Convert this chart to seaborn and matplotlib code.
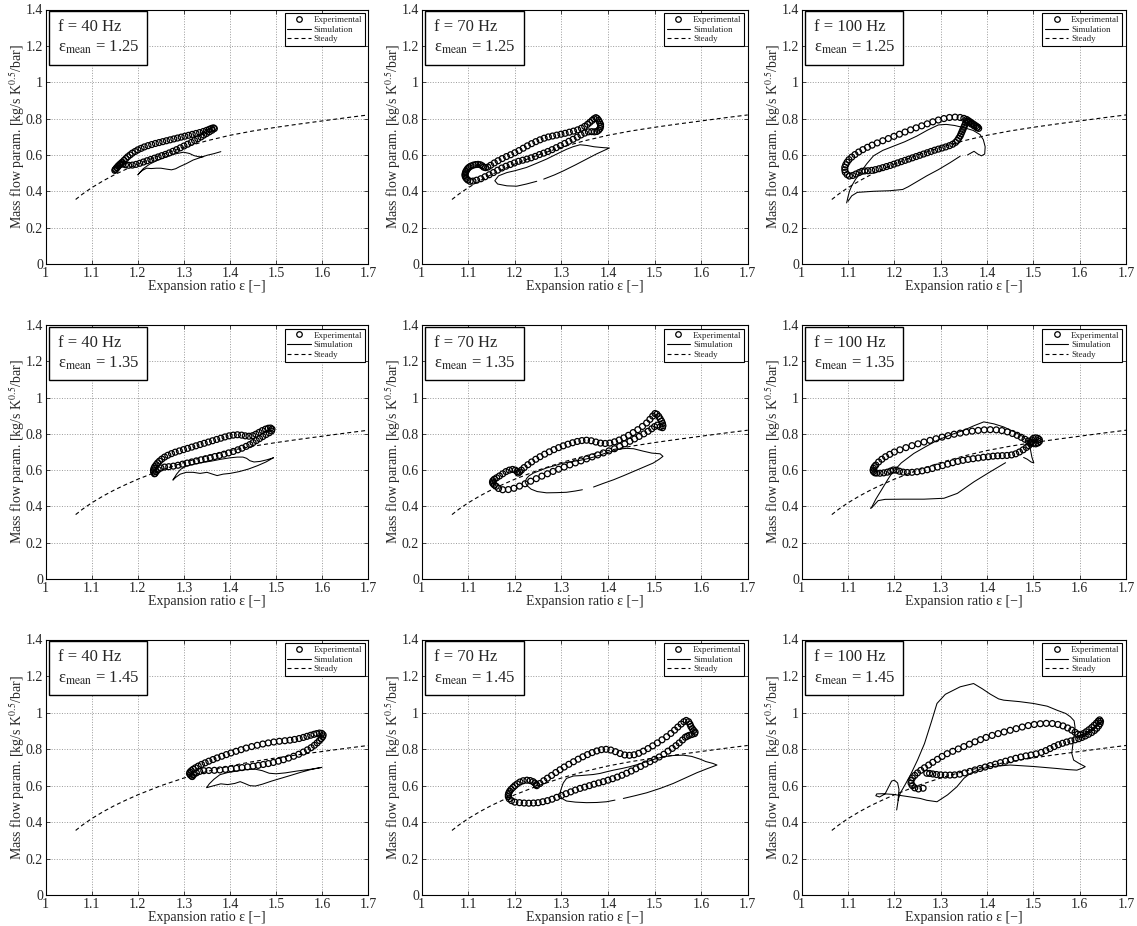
import numpy as np
import pandas as pd
import matplotlib
matplotlib.use("Agg")
import matplotlib.pyplot as plt
import seaborn as sns
from matplotlib.lines import Line2D

sns.set_style("white")
plt.rcParams["font.family"] = ["Liberation Serif", "DejaVu Serif"]
plt.rcParams["mathtext.fontset"] = "stix"

# ---------------- data ----------------
freqs = ["40", "70", "100"]
eps_means = ["1.25", "1.35", "1.45"]
x_ticks = [1.0, 1.1, 1.2, 1.3, 1.4, 1.5, 1.6, 1.7]
x_ticklabels = ["1", "1.1", "1.2", "1.3", "1.4", "1.5", "1.6", "1.7"]
y_ticks = [0.0, 0.2, 0.4, 0.6, 0.8, 1.0, 1.2, 1.4]
y_ticklabels = ["0", "0.2", "0.4", "0.6", "0.8", "1", "1.2", "1.4"]
legend_labels = ["Experimental", "Simulation", "Steady"]

steady_x = [1.065, 1.08, 1.10, 1.125, 1.15, 1.175, 1.2, 1.25, 1.3, 1.35, 1.4, 1.45, 1.5, 1.55, 1.6, 1.65, 1.7]
steady_y = [0.355, 0.385, 0.42, 0.458, 0.492, 0.522, 0.55, 0.6, 0.642, 0.678, 0.708, 0.732, 0.752, 0.77, 0.787, 0.804, 0.82]

NA = (np.nan, np.nan)

exp_f40_e125 = [
    (1.150, 0.515), (1.152, 0.522), (1.155, 0.530), (1.157, 0.538), (1.160, 0.546), (1.163, 0.553), (1.166, 0.560),
    (1.170, 0.570), (1.174, 0.580), (1.178, 0.590), (1.183, 0.600), (1.188, 0.610), (1.194, 0.619), (1.200, 0.628),
    (1.207, 0.636), (1.214, 0.644), (1.222, 0.651), (1.230, 0.657), (1.238, 0.663), (1.246, 0.668), (1.254, 0.673),
    (1.262, 0.678), (1.270, 0.683), (1.278, 0.688), (1.286, 0.693), (1.294, 0.698), (1.302, 0.703), (1.310, 0.708),
    (1.318, 0.713), (1.326, 0.718), (1.334, 0.723), (1.342, 0.729), (1.349, 0.735), (1.355, 0.741), (1.360, 0.746),
    (1.364, 0.749), (1.366, 0.745),
    (1.361, 0.736), (1.355, 0.727), (1.349, 0.718), (1.343, 0.709), (1.337, 0.699), (1.330, 0.689), (1.323, 0.679),
    (1.316, 0.669), (1.308, 0.659), (1.300, 0.649), (1.292, 0.639), (1.284, 0.629), (1.276, 0.620), (1.268, 0.611),
    (1.260, 0.603), (1.252, 0.596), (1.244, 0.589), (1.236, 0.582), (1.228, 0.575), (1.220, 0.568), (1.212, 0.561),
    (1.204, 0.554), (1.196, 0.548), (1.188, 0.544), (1.180, 0.543), (1.173, 0.546), (1.167, 0.550), (1.162, 0.548),
    (1.158, 0.540), (1.154, 0.530), (1.151, 0.520)]
sim_f40_e125 = [
    (1.380, 0.618), (1.365, 0.607), (1.350, 0.598), (1.335, 0.585), (1.320, 0.572), (1.305, 0.552), (1.291, 0.536),
    (1.282, 0.524), (1.273, 0.518), (1.262, 0.522), (1.250, 0.527), (1.240, 0.527), (1.229, 0.525), (1.219, 0.527),
    (1.210, 0.515), (1.203, 0.500), (1.200, 0.490), (1.204, 0.503), (1.212, 0.525), (1.226, 0.550), (1.244, 0.572),
    (1.262, 0.590), (1.280, 0.605), (1.299, 0.615), (1.312, 0.608), (1.322, 0.596), (1.332, 0.590), (1.342, 0.590)]

exp_f70_e125 = [
    (1.104, 0.455), (1.099, 0.462), (1.096, 0.470), (1.094, 0.478), (1.093, 0.486), (1.093, 0.494), (1.094, 0.502),
    (1.095, 0.510), (1.097, 0.518), (1.099, 0.526), (1.102, 0.533), (1.106, 0.539), (1.111, 0.544), (1.116, 0.547),
    (1.121, 0.548), (1.126, 0.546), (1.130, 0.540), (1.133, 0.533), (1.137, 0.530), (1.142, 0.533),
    (1.148, 0.543), (1.156, 0.556), (1.164, 0.568), (1.173, 0.580), (1.182, 0.591), (1.191, 0.601), (1.200, 0.612),
    (1.209, 0.624), (1.218, 0.637), (1.227, 0.650), (1.236, 0.662), (1.245, 0.673), (1.254, 0.683), (1.263, 0.692),
    (1.272, 0.699), (1.281, 0.704), (1.290, 0.709), (1.299, 0.714), (1.308, 0.719), (1.317, 0.725), (1.326, 0.731),
    (1.335, 0.738), (1.343, 0.747), (1.350, 0.757), (1.356, 0.768), (1.361, 0.779), (1.366, 0.790), (1.370, 0.799),
    (1.374, 0.805), (1.377, 0.800), (1.380, 0.790), (1.382, 0.779), (1.384, 0.768), (1.384, 0.757), (1.383, 0.746),
    (1.380, 0.736), (1.376, 0.729), (1.371, 0.727), (1.365, 0.728),
    (1.358, 0.727), (1.350, 0.720), (1.342, 0.710), (1.334, 0.698), (1.325, 0.686), (1.316, 0.675), (1.307, 0.663),
    (1.298, 0.651), (1.289, 0.640), (1.280, 0.629), (1.271, 0.619), (1.262, 0.610), (1.253, 0.602), (1.244, 0.592),
    (1.235, 0.584), (1.226, 0.577), (1.217, 0.571), (1.208, 0.565), (1.199, 0.556), (1.190, 0.547), (1.181, 0.538),
    (1.172, 0.528), (1.163, 0.516), (1.154, 0.503), (1.145, 0.491), (1.136, 0.480), (1.127, 0.469), (1.118, 0.461),
    (1.110, 0.456)]
sim_f70_e125 = [
    (1.262, 0.467), (1.285, 0.490), (1.304, 0.512), (1.330, 0.545), (1.354, 0.577), (1.375, 0.605), (1.397, 0.631),
    (1.403, 0.638), (1.390, 0.640), (1.370, 0.645), (1.355, 0.652), (1.340, 0.656), (1.325, 0.645), (1.311, 0.631),
    (1.290, 0.605), (1.268, 0.577), (1.245, 0.552), (1.225, 0.531), (1.200, 0.513), (1.183, 0.503), (1.165, 0.485),
    (1.157, 0.458), (1.163, 0.440), (1.183, 0.430), (1.204, 0.428), (1.225, 0.440), (1.247, 0.455)]

exp_f100_e125 = [
    (1.094, 0.505), (1.093, 0.518), (1.093, 0.532), (1.095, 0.546), (1.098, 0.560), (1.102, 0.574), (1.108, 0.588),
    (1.115, 0.602), (1.123, 0.616), (1.132, 0.629), (1.142, 0.642), (1.152, 0.654), (1.163, 0.666), (1.175, 0.678),
    (1.187, 0.690), (1.199, 0.702), (1.211, 0.714), (1.223, 0.726), (1.235, 0.738), (1.247, 0.749), (1.259, 0.760),
    (1.271, 0.771), (1.283, 0.782), (1.295, 0.792), (1.307, 0.800), (1.319, 0.806), (1.331, 0.808), (1.342, 0.806),
    (1.350, 0.801),
    (1.356, 0.795), (1.360, 0.788), (1.364, 0.781), (1.368, 0.774), (1.372, 0.767), (1.376, 0.760), (1.380, 0.753),
    (1.382, 0.746), (1.378, 0.750), (1.372, 0.760), (1.366, 0.770), (1.360, 0.780), (1.356, 0.786), (1.354, 0.776),
    (1.352, 0.764), (1.350, 0.752), (1.348, 0.740), (1.346, 0.728), (1.344, 0.716), (1.342, 0.704), (1.339, 0.692),
    (1.336, 0.680), (1.332, 0.669),
    (1.326, 0.659), (1.319, 0.651), (1.311, 0.644), (1.303, 0.638), (1.295, 0.632), (1.287, 0.626), (1.279, 0.619),
    (1.271, 0.612), (1.263, 0.605), (1.255, 0.598), (1.247, 0.591), (1.239, 0.584), (1.231, 0.577), (1.223, 0.570),
    (1.215, 0.563), (1.207, 0.556), (1.199, 0.549), (1.191, 0.542), (1.183, 0.536), (1.175, 0.530), (1.167, 0.524),
    (1.159, 0.519), (1.151, 0.515), (1.143, 0.513), (1.136, 0.512), (1.130, 0.510), (1.124, 0.503), (1.117, 0.495),
    (1.110, 0.487), (1.103, 0.484), (1.098, 0.492)]
sim_f100_e125 = [
    (1.097, 0.336), (1.100, 0.370), (1.103, 0.400), (1.108, 0.430), (1.116, 0.465), (1.126, 0.500), (1.140, 0.550),
    (1.155, 0.595), (1.175, 0.625), (1.198, 0.648), (1.222, 0.672), (1.248, 0.703), (1.272, 0.737), (1.295, 0.765),
    (1.312, 0.768), (1.330, 0.762), (1.350, 0.750), (1.370, 0.735), (1.385, 0.712), (1.392, 0.684), (1.396, 0.645),
    (1.395, 0.605), (1.388, 0.595), (1.380, 0.605), (1.372, 0.620), (1.365, 0.610), (1.358, 0.600),
    NA,
    (1.342, 0.593), (1.320, 0.557), (1.295, 0.519), (1.270, 0.485), (1.248, 0.452), (1.230, 0.425), (1.218, 0.410),
    (1.190, 0.403), (1.155, 0.400), (1.120, 0.394), (1.108, 0.375), (1.100, 0.345)]

exp_f40_e135 = [
    (1.236, 0.580), (1.234, 0.590), (1.234, 0.600), (1.235, 0.610), (1.237, 0.620), (1.240, 0.630), (1.243, 0.640),
    (1.247, 0.650),
    (1.252, 0.661), (1.258, 0.672), (1.265, 0.682), (1.273, 0.691), (1.281, 0.699), (1.290, 0.706), (1.299, 0.713),
    (1.308, 0.720), (1.317, 0.727), (1.326, 0.734), (1.335, 0.741), (1.344, 0.748), (1.353, 0.755), (1.362, 0.762),
    (1.371, 0.769), (1.380, 0.776), (1.389, 0.783), (1.398, 0.789), (1.407, 0.793), (1.416, 0.795), (1.425, 0.793),
    (1.433, 0.789), (1.441, 0.787), (1.449, 0.790), (1.456, 0.798), (1.463, 0.808), (1.470, 0.818), (1.477, 0.826),
    (1.483, 0.831), (1.488, 0.832), (1.491, 0.826), (1.490, 0.816),
    (1.485, 0.806), (1.478, 0.796), (1.471, 0.785), (1.464, 0.774), (1.457, 0.763), (1.450, 0.752), (1.443, 0.741),
    (1.435, 0.731), (1.426, 0.721), (1.417, 0.712), (1.407, 0.703), (1.397, 0.695), (1.387, 0.688), (1.377, 0.681),
    (1.367, 0.675), (1.357, 0.669), (1.347, 0.663), (1.337, 0.657), (1.327, 0.651), (1.317, 0.645), (1.307, 0.639),
    (1.297, 0.633), (1.287, 0.627), (1.277, 0.622), (1.267, 0.619), (1.258, 0.617), (1.250, 0.612), (1.244, 0.603),
    (1.240, 0.592), (1.237, 0.582)]
sim_f40_e135 = [
    (1.494, 0.668), (1.480, 0.657), (1.465, 0.648), (1.452, 0.645), (1.443, 0.652), (1.436, 0.665), (1.428, 0.672),
    (1.416, 0.672), (1.400, 0.668), (1.380, 0.660), (1.360, 0.650), (1.340, 0.642), (1.320, 0.632), (1.305, 0.622),
    (1.293, 0.605), (1.284, 0.578), (1.276, 0.545), (1.282, 0.560), (1.292, 0.578), (1.305, 0.588), (1.320, 0.588),
    (1.335, 0.582), (1.350, 0.588), (1.362, 0.578), (1.372, 0.570), (1.385, 0.578), (1.400, 0.582), (1.420, 0.592),
    (1.440, 0.606), (1.460, 0.625), (1.478, 0.645), (1.494, 0.668)]

exp_f70_e135 = [
    (1.160, 0.511), (1.156, 0.518), (1.153, 0.526), (1.152, 0.534), (1.153, 0.542), (1.156, 0.550), (1.161, 0.558),
    (1.167, 0.568), (1.174, 0.580), (1.181, 0.592), (1.188, 0.600), (1.195, 0.604), (1.201, 0.600), (1.205, 0.592),
    (1.207, 0.584), (1.210, 0.590), (1.214, 0.600),
    (1.220, 0.614), (1.228, 0.630), (1.236, 0.645), (1.245, 0.660), (1.254, 0.674), (1.264, 0.688), (1.274, 0.701),
    (1.284, 0.713), (1.294, 0.724), (1.304, 0.734), (1.314, 0.743), (1.324, 0.751), (1.334, 0.758), (1.344, 0.763),
    (1.354, 0.765), (1.364, 0.762), (1.374, 0.755), (1.384, 0.749), (1.394, 0.747), (1.404, 0.749), (1.414, 0.756),
    (1.424, 0.766), (1.434, 0.778), (1.444, 0.792), (1.454, 0.807), (1.464, 0.823), (1.474, 0.841), (1.483, 0.860),
    (1.490, 0.880), (1.496, 0.898), (1.501, 0.912), (1.505, 0.908), (1.509, 0.896), (1.512, 0.883), (1.515, 0.870),
    (1.517, 0.857), (1.518, 0.845), (1.517, 0.834), (1.512, 0.838), (1.506, 0.848), (1.500, 0.840),
    (1.494, 0.828), (1.486, 0.814), (1.477, 0.800), (1.467, 0.786), (1.457, 0.772), (1.447, 0.759), (1.436, 0.745),
    (1.425, 0.731), (1.414, 0.718), (1.402, 0.706), (1.390, 0.695), (1.378, 0.684), (1.366, 0.673), (1.354, 0.662),
    (1.342, 0.651), (1.330, 0.640), (1.318, 0.629), (1.306, 0.617), (1.294, 0.605), (1.282, 0.593), (1.270, 0.580),
    (1.258, 0.567), (1.246, 0.553), (1.234, 0.539), (1.222, 0.525), (1.210, 0.512), (1.198, 0.500), (1.186, 0.493),
    (1.174, 0.492), (1.165, 0.499)]
sim_f70_e135 = [
    (1.369, 0.507), (1.390, 0.527), (1.412, 0.547), (1.434, 0.570), (1.455, 0.593), (1.476, 0.616), (1.497, 0.639),
    (1.510, 0.660), (1.518, 0.676), (1.512, 0.690), (1.494, 0.694), (1.475, 0.705), (1.455, 0.718), (1.440, 0.720),
    (1.426, 0.717), (1.412, 0.706), (1.397, 0.696), (1.383, 0.683), (1.369, 0.672), (1.354, 0.662), (1.340, 0.654),
    (1.322, 0.647), (1.304, 0.639), (1.286, 0.625), (1.268, 0.612), (1.254, 0.598), (1.240, 0.584), (1.230, 0.568),
    (1.225, 0.553), (1.222, 0.535), (1.226, 0.515), (1.235, 0.495), (1.248, 0.482), (1.268, 0.475), (1.290, 0.476),
    (1.311, 0.478), (1.330, 0.485), (1.345, 0.492)]

exp_f100_e135 = [
    (1.158, 0.585), (1.155, 0.592), (1.154, 0.600), (1.155, 0.610), (1.157, 0.619),
    (1.160, 0.628), (1.166, 0.645), (1.173, 0.660), (1.181, 0.674), (1.190, 0.687), (1.200, 0.700), (1.212, 0.712),
    (1.225, 0.724), (1.238, 0.735), (1.251, 0.745), (1.264, 0.755), (1.277, 0.764), (1.290, 0.773), (1.303, 0.782),
    (1.316, 0.790), (1.329, 0.798), (1.342, 0.804), (1.355, 0.810), (1.368, 0.815), (1.381, 0.819), (1.394, 0.822),
    (1.407, 0.823), (1.420, 0.822), (1.432, 0.818), (1.444, 0.811), (1.455, 0.802), (1.465, 0.792), (1.474, 0.781),
    (1.482, 0.770), (1.489, 0.760), (1.495, 0.752), (1.500, 0.748),
    (1.505, 0.745), (1.510, 0.750), (1.513, 0.758), (1.513, 0.768), (1.510, 0.775), (1.505, 0.778), (1.500, 0.775),
    (1.497, 0.766), (1.496, 0.756), (1.494, 0.745), (1.490, 0.735), (1.485, 0.725),
    (1.478, 0.712), (1.470, 0.700), (1.462, 0.690), (1.453, 0.684), (1.443, 0.681), (1.433, 0.680), (1.423, 0.679),
    (1.413, 0.677), (1.403, 0.674), (1.392, 0.671), (1.381, 0.667), (1.370, 0.663), (1.359, 0.659), (1.348, 0.654),
    (1.337, 0.648), (1.326, 0.641), (1.315, 0.633), (1.304, 0.625), (1.293, 0.617), (1.282, 0.609), (1.271, 0.602),
    (1.260, 0.596), (1.249, 0.591), (1.238, 0.588), (1.228, 0.587), (1.219, 0.589), (1.211, 0.594), (1.204, 0.600),
    (1.198, 0.601), (1.192, 0.595), (1.185, 0.589), (1.177, 0.585), (1.169, 0.583), (1.162, 0.584)]
sim_f100_e135 = [
    (1.149, 0.390), (1.152, 0.400), (1.160, 0.440), (1.172, 0.490), (1.185, 0.545), (1.195, 0.585), (1.215, 0.640),
    (1.242, 0.692), (1.268, 0.730), (1.293, 0.765), (1.320, 0.793), (1.350, 0.820), (1.372, 0.845), (1.393, 0.866),
    (1.415, 0.855), (1.436, 0.838), (1.458, 0.812), (1.479, 0.783), (1.490, 0.750), (1.494, 0.710), (1.497, 0.670),
    (1.501, 0.640), (1.495, 0.645), (1.487, 0.660), (1.479, 0.670),
    NA,
    (1.440, 0.641), (1.407, 0.591), (1.372, 0.536), (1.336, 0.472), (1.307, 0.445), (1.264, 0.440), (1.220, 0.440),
    (1.180, 0.439), (1.165, 0.432), (1.158, 0.412), (1.152, 0.395), (1.149, 0.390)]

exp_f40_e145 = [
    (1.318, 0.650), (1.314, 0.658), (1.312, 0.666), (1.313, 0.674), (1.316, 0.682), (1.320, 0.690), (1.325, 0.698),
    (1.331, 0.707), (1.338, 0.716), (1.346, 0.725), (1.354, 0.734), (1.363, 0.743), (1.372, 0.752), (1.382, 0.761),
    (1.392, 0.770), (1.402, 0.779), (1.413, 0.788), (1.424, 0.797), (1.435, 0.806), (1.447, 0.814), (1.459, 0.821),
    (1.471, 0.828), (1.483, 0.834), (1.495, 0.839), (1.507, 0.843), (1.519, 0.846), (1.530, 0.849), (1.540, 0.853),
    (1.550, 0.858), (1.559, 0.864), (1.567, 0.870), (1.575, 0.876), (1.582, 0.881), (1.588, 0.885), (1.594, 0.888),
    (1.599, 0.886), (1.602, 0.878), (1.601, 0.868), (1.598, 0.858),
    (1.594, 0.847), (1.589, 0.834), (1.583, 0.821), (1.576, 0.808), (1.568, 0.796), (1.559, 0.784), (1.549, 0.772),
    (1.538, 0.761), (1.527, 0.751), (1.516, 0.742), (1.505, 0.734), (1.494, 0.727), (1.483, 0.721), (1.472, 0.716),
    (1.461, 0.711), (1.450, 0.707), (1.438, 0.703), (1.426, 0.699), (1.414, 0.695), (1.402, 0.692), (1.390, 0.689),
    (1.378, 0.686), (1.366, 0.684), (1.354, 0.683), (1.343, 0.682), (1.334, 0.678), (1.327, 0.670), (1.321, 0.660),
    (1.317, 0.652)]
sim_f40_e145 = [
    (1.599, 0.700), (1.575, 0.688), (1.552, 0.672), (1.530, 0.655), (1.510, 0.640), (1.490, 0.625), (1.470, 0.608),
    (1.455, 0.598), (1.443, 0.600), (1.432, 0.612), (1.422, 0.622), (1.410, 0.612), (1.395, 0.606), (1.380, 0.610),
    (1.365, 0.600), (1.349, 0.589), (1.355, 0.610), (1.365, 0.635), (1.378, 0.660), (1.395, 0.672), (1.415, 0.680),
    (1.435, 0.688), (1.455, 0.690), (1.470, 0.682), (1.485, 0.668), (1.500, 0.665), (1.520, 0.670), (1.545, 0.680),
    (1.575, 0.690), (1.599, 0.700)]

exp_f70_e145 = [
    (1.186, 0.540), (1.186, 0.550), (1.187, 0.560), (1.189, 0.570), (1.192, 0.580), (1.196, 0.590), (1.200, 0.600),
    (1.205, 0.610), (1.211, 0.620), (1.218, 0.627), (1.226, 0.630), (1.233, 0.628), (1.239, 0.622), (1.243, 0.614),
    (1.246, 0.606),
    (1.247, 0.600), (1.254, 0.612), (1.262, 0.627), (1.270, 0.641), (1.279, 0.656), (1.288, 0.672), (1.297, 0.687),
    (1.306, 0.702), (1.316, 0.717), (1.326, 0.731), (1.336, 0.745), (1.346, 0.758), (1.356, 0.770), (1.366, 0.781),
    (1.376, 0.790), (1.386, 0.797), (1.396, 0.799), (1.406, 0.795), (1.416, 0.786), (1.426, 0.776), (1.436, 0.768),
    (1.446, 0.766), (1.456, 0.769), (1.466, 0.777), (1.476, 0.789), (1.486, 0.803), (1.496, 0.818), (1.506, 0.834),
    (1.516, 0.851), (1.526, 0.868), (1.535, 0.886), (1.543, 0.904), (1.550, 0.921), (1.557, 0.937), (1.563, 0.950),
    (1.568, 0.957), (1.573, 0.950),
    (1.576, 0.937), (1.578, 0.924), (1.581, 0.912), (1.584, 0.902), (1.587, 0.893), (1.586, 0.885), (1.580, 0.880),
    (1.574, 0.875), (1.570, 0.870),
    (1.566, 0.865), (1.560, 0.850), (1.553, 0.834), (1.546, 0.819), (1.538, 0.804), (1.529, 0.789), (1.520, 0.772),
    (1.510, 0.757), (1.500, 0.744), (1.490, 0.731), (1.480, 0.718), (1.470, 0.705), (1.460, 0.692), (1.450, 0.680),
    (1.440, 0.668), (1.430, 0.657), (1.420, 0.647), (1.410, 0.638), (1.400, 0.630), (1.390, 0.622), (1.380, 0.615),
    (1.370, 0.608), (1.360, 0.600), (1.350, 0.592), (1.340, 0.585), (1.330, 0.576), (1.320, 0.566), (1.310, 0.556),
    (1.300, 0.546), (1.290, 0.536), (1.280, 0.526), (1.270, 0.518), (1.260, 0.512), (1.250, 0.507), (1.240, 0.505),
    (1.230, 0.504), (1.220, 0.505), (1.210, 0.507), (1.200, 0.510), (1.193, 0.518), (1.188, 0.528)]
sim_f70_e145 = [
    (1.433, 0.530), (1.458, 0.545), (1.483, 0.561), (1.512, 0.585), (1.540, 0.612), (1.566, 0.642), (1.591, 0.671),
    (1.612, 0.692), (1.634, 0.713), (1.625, 0.722), (1.610, 0.732), (1.598, 0.745), (1.580, 0.760), (1.562, 0.767),
    (1.540, 0.765), (1.519, 0.758), (1.500, 0.745), (1.483, 0.731), (1.465, 0.717), (1.447, 0.704), (1.430, 0.694),
    (1.412, 0.685), (1.397, 0.676), (1.383, 0.667), (1.368, 0.661), (1.354, 0.658), (1.340, 0.655), (1.326, 0.653),
    (1.311, 0.640), (1.304, 0.615), (1.301, 0.594), (1.298, 0.570), (1.297, 0.549), (1.301, 0.530), (1.311, 0.516),
    (1.330, 0.510), (1.354, 0.507), (1.376, 0.508), (1.397, 0.512), (1.415, 0.521)]

exp_f100_e145 = [
    (1.262, 0.586), (1.252, 0.582), (1.244, 0.588), (1.239, 0.600), (1.236, 0.614), (1.236, 0.628), (1.239, 0.642),
    (1.244, 0.656), (1.250, 0.670), (1.257, 0.684), (1.265, 0.698),
    (1.274, 0.713), (1.283, 0.728), (1.293, 0.744), (1.303, 0.760), (1.314, 0.775), (1.326, 0.788), (1.338, 0.801),
    (1.350, 0.814), (1.362, 0.827), (1.374, 0.840), (1.386, 0.852), (1.398, 0.864), (1.411, 0.875), (1.424, 0.885),
    (1.437, 0.894), (1.450, 0.903), (1.463, 0.912), (1.476, 0.921), (1.489, 0.929), (1.502, 0.935), (1.515, 0.939),
    (1.528, 0.941), (1.541, 0.940), (1.553, 0.935), (1.564, 0.927), (1.574, 0.916), (1.583, 0.904), (1.590, 0.892),
    (1.596, 0.882),
    (1.602, 0.878), (1.608, 0.885), (1.614, 0.895), (1.620, 0.906), (1.626, 0.918), (1.631, 0.930), (1.636, 0.942),
    (1.640, 0.953), (1.643, 0.960), (1.645, 0.952), (1.644, 0.940), (1.641, 0.927), (1.637, 0.914), (1.632, 0.902),
    (1.626, 0.891), (1.619, 0.881), (1.612, 0.872), (1.605, 0.864), (1.598, 0.857), (1.590, 0.851),
    (1.581, 0.845), (1.572, 0.839), (1.563, 0.832), (1.554, 0.824), (1.545, 0.814), (1.536, 0.803), (1.527, 0.792),
    (1.517, 0.782), (1.506, 0.774), (1.495, 0.768), (1.484, 0.763), (1.473, 0.757), (1.462, 0.750), (1.451, 0.742),
    (1.440, 0.734), (1.429, 0.726), (1.418, 0.718), (1.407, 0.710), (1.396, 0.702), (1.385, 0.694), (1.374, 0.686),
    (1.363, 0.678), (1.352, 0.670), (1.341, 0.663), (1.330, 0.659), (1.320, 0.658), (1.310, 0.658), (1.300, 0.659),
    (1.291, 0.661), (1.283, 0.664), (1.276, 0.667), (1.270, 0.668)]
sim_f100_e145 = [
    (1.205, 0.467), (1.207, 0.500), (1.209, 0.530), (1.213, 0.560), (1.222, 0.600), (1.235, 0.660), (1.250, 0.740),
    (1.265, 0.830), (1.280, 0.950), (1.292, 1.050), (1.310, 1.100), (1.342, 1.141), (1.371, 1.159), (1.390, 1.130),
    (1.407, 1.101), (1.425, 1.075), (1.436, 1.068), (1.470, 1.060), (1.500, 1.050), (1.530, 1.035), (1.551, 1.013),
    (1.570, 0.995), (1.580, 0.977), (1.588, 0.955), (1.590, 0.920), (1.588, 0.870), (1.585, 0.820), (1.583, 0.777),
    (1.587, 0.740), (1.600, 0.720), (1.612, 0.704), (1.605, 0.695), (1.594, 0.685), (1.575, 0.688), (1.551, 0.694),
    (1.500, 0.705), (1.450, 0.713), (1.407, 0.704), (1.385, 0.690), (1.364, 0.667), (1.350, 0.640), (1.335, 0.594),
    (1.315, 0.550), (1.292, 0.512), (1.270, 0.520), (1.256, 0.530), (1.230, 0.540), (1.198, 0.552), (1.175, 0.556),
    (1.162, 0.555), (1.160, 0.545), (1.168, 0.538), (1.180, 0.555), (1.194, 0.625), (1.200, 0.630), (1.207, 0.615),
    (1.210, 0.580), (1.208, 0.520)]

exp_data = [[exp_f40_e125, exp_f70_e125, exp_f100_e125],
            [exp_f40_e135, exp_f70_e135, exp_f100_e135],
            [exp_f40_e145, exp_f70_e145, exp_f100_e145]]
sim_data = [[sim_f40_e125, sim_f70_e125, sim_f100_e125],
            [sim_f40_e135, sim_f70_e135, sim_f100_e135],
            [sim_f40_e145, sim_f70_e145, sim_f100_e145]]

# ---------------- layout ----------------
W, H = 1137, 926
col_left = [45.7, 421.7, 801.7]
col_width = [322.6, 326.0, 324.3]
row_top = [9.5, 325.0, 639.5]
row_bot = [264.0, 579.0, 895.3]

fig = plt.figure(figsize=(W / 100, H / 100), dpi=100)
dash = (0, (3.6, 2.7))

for r in range(3):
    for c in range(3):
        rect = [col_left[c] / W, 1 - row_bot[r] / H, col_width[c] / W, (row_bot[r] - row_top[r]) / H]
        ax = fig.add_axes(rect)

        sdf = pd.DataFrame({"x": steady_x, "y": steady_y})
        sns.lineplot(data=sdf, x="x", y="y", ax=ax, color="black", linewidth=0.8,
                     linestyle=dash, sort=False, estimator=None)

        sim = pd.DataFrame(sim_data[r][c], columns=["x", "y"])
        sim["seg"] = sim["x"].isna().cumsum()
        sim = sim.dropna()
        sns.lineplot(data=sim, x="x", y="y", units="seg", estimator=None, sort=False,
                     ax=ax, color="black", linewidth=0.75)

        exp = pd.DataFrame(exp_data[r][c], columns=["x", "y"])
        sns.scatterplot(data=exp, x="x", y="y", ax=ax, marker="o", s=18,
                        facecolor="none", edgecolor="black", linewidth=0.9, zorder=3)

        ax.set_xlim(1.0, 1.7)
        ax.set_ylim(0.0, 1.4)
        ax.set_xticks(x_ticks)
        ax.set_xticklabels(x_ticklabels)
        ax.set_yticks(y_ticks)
        ax.set_yticklabels(y_ticklabels)
        ax.tick_params(direction="in", length=3, width=0.6, labelsize=10, pad=2,
                       top=True, right=True, bottom=True, left=True)
        ax.grid(True, linestyle=":", color="#9a9a9a", linewidth=0.7)
        for sp in ax.spines.values():
            sp.set_color("black")
            sp.set_linewidth(0.8)
        ax.set_xlabel("Expansion ratio ε [−]", fontsize=10, labelpad=0)
        ax.set_ylabel("Mass flow param. [kg/s K$^{0.5}$/bar]", fontsize=10, labelpad=-1)

        ax.text(0.037, 0.962, "f = " + freqs[c] + " Hz\n" + r"ε$_{\mathrm{mean}}$" + " = " + eps_means[r],
                transform=ax.transAxes, ha="left", va="top", fontsize=12, linespacing=1.3,
                bbox=dict(boxstyle="square,pad=0.5", fc="white", ec="black", lw=1.0), zorder=5)

        handles = [Line2D([], [], marker="o", ls="none", mfc="none", mec="black", ms=4.0, mew=0.9),
                   Line2D([], [], color="black", lw=0.8),
                   Line2D([], [], color="black", lw=0.8, ls=dash)]
        leg = ax.legend(handles, legend_labels, loc="upper right", fontsize=6.5, frameon=True,
                        fancybox=False, edgecolor="black", framealpha=1, borderaxespad=0.4,
                        handlelength=2.6, labelspacing=0.15, borderpad=0.3, handletextpad=0.3)
        leg.get_frame().set_linewidth(0.8)

fig.savefig("out.png", dpi=100)
